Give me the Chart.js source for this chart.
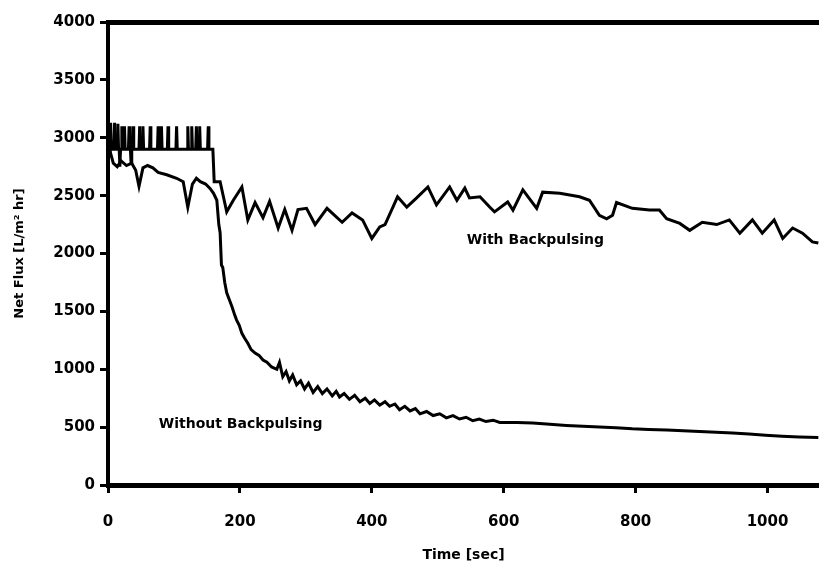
<!DOCTYPE html>
<html>
<head>
<meta charset="utf-8">
<script src="https://cdn.jsdelivr.net/npm/chart.js@4.4.1/dist/chart.umd.min.js"></script>
<style>
  html, body { margin: 0; padding: 0; background: #fff; }
  #wrap { width: 819px; height: 568px; }
</style>
</head>
<body>
<div id="wrap"><canvas id="chart"></canvas></div>
<script>
/*=================================
      data
=================================*/
// with backpulsing: spiky part first (each spike = base, top, base)
var withTime = [0,
  3, 4, 5, 9, 10, 11, 14, 15, 16, 17, 18, 19, 20, 21, 22, 24, 25, 26,
  31, 32, 33, 34, 35, 36, 37, 38, 39, 47, 48, 49, 52, 53, 54, 63, 64, 65,
  75, 76, 77, 80, 81, 82, 90, 91, 92, 103, 104, 105, 120, 121, 122,
  126, 127, 128, 133, 134, 135, 138, 139, 140, 151, 152, 153, 159, 161,
  170, 180, 190, 203, 212, 223, 235, 245, 258, 268, 279, 288, 301, 314, 332, 355, 370, 386, 400, 412, 420, 432, 439, 453, 468, 485, 498, 518, 529, 541, 548, 564, 579, 586, 606, 614, 629, 650, 659, 685, 715, 730, 745, 756, 765, 771, 795, 821, 836, 847, 867, 882, 901, 923, 942, 958, 977, 992, 1010, 1023, 1038, 1053, 1068, 1077];
var withFlux = [2950,
  2900, 3130, 2900, 2900, 3130, 2900, 2900, 3120, 2900, 2900, 2750, 2900, 2900, 3100, 2900, 2900, 3100, 2900,
  2900, 3100, 2900, 2900, 2780, 2900, 2900, 3100, 2900, 2900, 3100, 2900, 2900, 3100, 2900, 2900, 3100, 2900,
  2900, 3100, 2900, 2900, 3100, 2900, 2900, 3100, 2900, 2900, 3100, 2900, 2900, 3100, 2900,
  2900, 3100, 2900, 2900, 3100, 2900, 2900, 3100, 2900, 2900, 3100, 2900, 2900, 2620,
  2620, 2360, 2460, 2575, 2290, 2440, 2310, 2450, 2220, 2380, 2200, 2380, 2390, 2250, 2390, 2270, 2350, 2290, 2130, 2230, 2250, 2400, 2490, 2400, 2480, 2575, 2420, 2575, 2460, 2565, 2480, 2490, 2400, 2360, 2445, 2375, 2550, 2390, 2530, 2520, 2490, 2460, 2330, 2300, 2330, 2440, 2390, 2375, 2375, 2300, 2260, 2200, 2270, 2250, 2290, 2175, 2290, 2175, 2290, 2130, 2220, 2175, 2100, 2090];

var withoutTime = [0, 8, 14, 20, 28, 36, 42, 47, 53, 60, 68, 76, 89, 104, 114, 121, 128, 134, 140, 148, 155, 160, 165, 168, 170, 172, 174, 177, 180, 184, 188, 192, 195, 199, 203, 207, 212, 217, 223, 229, 235, 241, 248, 256, 260, 265, 270, 275, 280, 286, 292, 298, 304, 311, 318, 325, 332, 340, 346, 351, 358, 366, 374, 382, 390, 397, 404, 412, 420, 427, 435, 442, 450, 458, 466, 473, 483, 493, 503, 513, 523, 533, 543, 553, 563, 573, 584, 594, 620, 644, 670, 695, 720, 745, 770, 795, 820, 847, 872, 897, 922, 947, 972, 997, 1022, 1048, 1077];
var withoutFlux = [2950, 2780, 2750, 2800, 2760, 2780, 2720, 2580, 2740, 2760, 2740, 2700, 2680, 2650, 2620, 2400, 2600, 2650, 2620, 2600, 2560, 2520, 2460, 2250, 2180, 1900, 1880, 1750, 1660, 1600, 1540, 1470, 1425, 1380, 1310, 1270, 1225, 1170, 1140, 1120, 1080, 1060, 1020, 1000, 1060, 935, 980, 900, 950, 865, 900, 830, 880, 800, 850, 790, 830, 770, 810, 760, 790, 740, 775, 720, 750, 705, 735, 690, 720, 680, 700, 650, 680, 640, 660, 615, 635, 600, 615, 580, 600, 570, 585, 555, 570, 548, 560, 540, 540, 535, 525, 515, 508, 501, 495, 485, 480, 475, 468, 462, 455, 450, 440, 430, 422, 415, 410];

var yTicks = [0, 500, 1000, 1500, 2000, 2500, 3000, 3500, 4000];
var xTicks = [0, 200, 400, 600, 800, 1000];

var labelWith = { text: "With Backpulsing", t: 648, v: 2117 };
var labelWithout = { text: "Without Backpulsing", t: 201, v: 525 };

function toPoints(ts, vs) {
  return ts.map((t, i) => ({ x: t, y: vs[i] }));
}

var font = "'DejaVu Sans', sans-serif";

/*=================================
      text labels inside the plot
=================================*/
var notes = {
  id: "notes",
  afterDatasetsDraw(chart) {
    const ctx = chart.ctx;
    const x = chart.scales.x;
    const y = chart.scales.y;
    ctx.save();
    ctx.fillStyle = "#000";
    ctx.font = "bold 14px " + font;
    ctx.textAlign = "center";
    ctx.textBaseline = "middle";
    [labelWith, labelWithout].forEach((l) => {
      ctx.fillText(l.text, x.getPixelForValue(l.t), y.getPixelForValue(l.v));
    });
    ctx.restore();
  },
};

new Chart("chart", {
  type: "line",
  data: {
    datasets: [
      {
        label: "With Backpulsing",
        data: toPoints(withTime, withFlux),
        borderColor: "#000",
        borderWidth: 3,
        pointRadius: 0,
        tension: 0,
      },
      {
        label: "Without Backpulsing",
        data: toPoints(withoutTime, withoutFlux),
        borderColor: "#000",
        borderWidth: 3,
        pointRadius: 0,
        tension: 0,
      },
    ],
  },
  options: {
    responsive: true,
    maintainAspectRatio: false,
    animation: false,
    layout: { padding: { top: 22, right: 0, left: 0, bottom: 0 } },
    plugins: { legend: { display: false }, tooltip: { enabled: false } },
    scales: {
      x: {
        type: "linear",
        min: 0,
        max: 1078,
        afterFit: (s) => { s.height = 83; },
        afterBuildTicks: (s) => { s.ticks = xTicks.map((v) => ({ value: v })); },
        border: { display: true, color: "#000", width: 5 },
        grid: { drawOnChartArea: false, tickLength: 8, tickColor: "#000", tickWidth: 3 },
        ticks: {
          color: "#000",
          padding: 20,
          maxRotation: 0,
          callback: (v) => String(v),
          font: { family: font, size: 15, weight: "bold" },
        },
        title: {
          display: true,
          text: "Time [sec]",
          color: "#000",
          padding: { top: 0, bottom: 4 },
          font: { family: font, size: 14, weight: "bold" },
        },
      },
      y: {
        min: 0,
        max: 4000,
        afterFit: (s) => { s.width = 108; },
        afterBuildTicks: (s) => { s.ticks = yTicks.map((v) => ({ value: v })); },
        border: { display: true, color: "#000", width: 4 },
        grid: {
          color: (c) => (c.tick && c.tick.value === 4000 ? "#000" : "rgba(0,0,0,0)"),
          lineWidth: (c) => (c.tick && c.tick.value === 4000 ? 5 : 1),
          tickLength: 8,
          tickColor: "#000",
          tickWidth: 3,
        },
        ticks: {
          color: "#000",
          padding: 5,
          callback: (v) => String(v),
          font: { family: font, size: 15, weight: "bold" },
        },
        title: {
          display: true,
          text: "Net Flux [L/m² hr]",
          color: "#000",
          padding: { top: 12, bottom: 0 },
          font: { family: font, size: 13, weight: "bold" },
        },
      },
    },
  },
  plugins: [notes],
});
</script>
</body>
</html>
